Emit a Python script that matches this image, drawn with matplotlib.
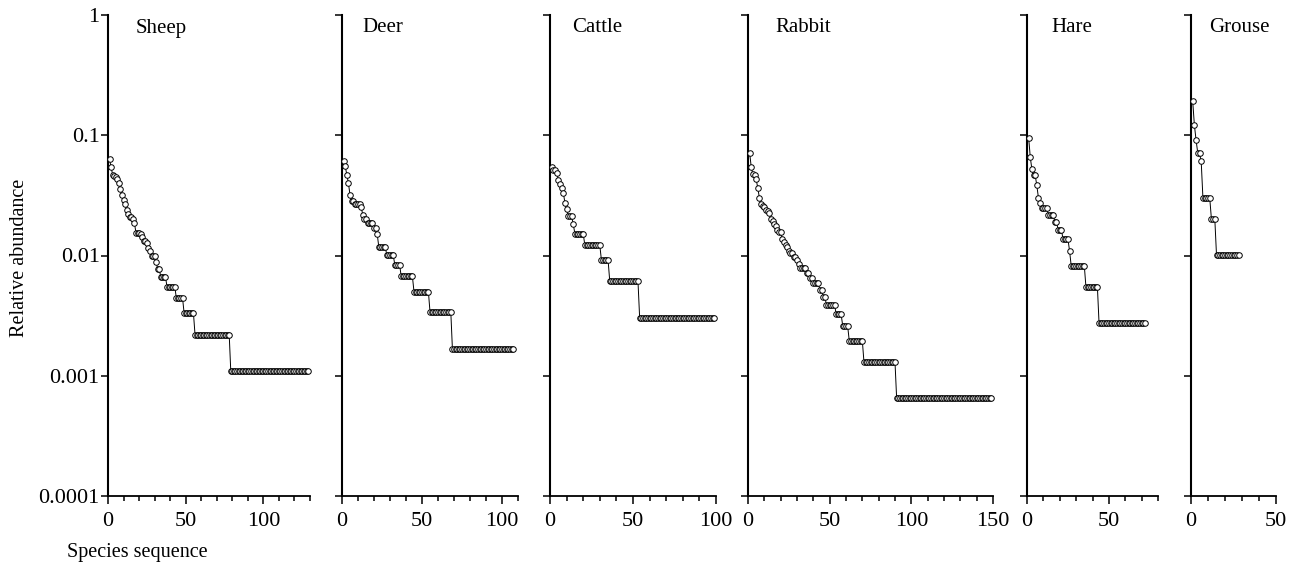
import matplotlib.pyplot as plt
from matplotlib.ticker import MultipleLocator, NullLocator, FixedLocator, FixedFormatter

plt.rcParams["font.family"] = ["Liberation Serif", "DejaVu Serif"]

# ── Data (relative abundance by rank) ────────────────────────────────────────
species = ["Sheep", "Deer", "Cattle", "Rabbit", "Hare", "Grouse"]
x_max = [130, 110, 100, 150, 80, 50]

sheep = ([0.063, 0.054, 0.047, 0.046, 0.045, 0.043, 0.040, 0.036, 0.032,
          0.029, 0.027, 0.024, 0.022, 0.021, 0.021, 0.020, 0.0187, 0.0154,
          0.0154, 0.0154, 0.0150, 0.0143, 0.0132, 0.0132, 0.0126, 0.0115,
          0.0110, 0.0099, 0.0099, 0.0099, 0.0088, 0.0077, 0.0077]
         + [0.0066] * 4 + [0.0055] * 6 + [0.0044] * 5 + [0.0033] * 7
         + [0.0022] * 23 + [0.0011] * 51)

deer = ([0.0605, 0.0555, 0.047, 0.040, 0.032, 0.0286, 0.0286, 0.0269,
         0.0269, 0.0269, 0.0269, 0.0252, 0.0218, 0.0202, 0.0202, 0.0185,
         0.0185, 0.0185, 0.0185, 0.0168, 0.0168, 0.0151]
        + [0.0118] * 5 + [0.0101] * 5 + [0.0084] * 4 + [0.0067] * 8
        + [0.0050] * 10 + [0.0034] * 14 + [0.00168] * 39)

cattle = ([0.0547, 0.0517, 0.0517, 0.0486, 0.0426, 0.0395, 0.0365, 0.0334,
           0.0274, 0.0243, 0.0213, 0.0213, 0.0213, 0.0182]
          + [0.0152] * 6 + [0.01216] * 10 + [0.0091] * 5 + [0.0061] * 18
          + [0.00304] * 46)

rabbit = ([0.0715, 0.054, 0.0474, 0.0468, 0.043, 0.0364, 0.030, 0.0266,
           0.026, 0.0253, 0.0240, 0.0234, 0.0227, 0.0201, 0.0195, 0.0182,
           0.0175, 0.0162, 0.0156, 0.0156, 0.0136, 0.0130, 0.0123, 0.0117,
           0.0110, 0.0104, 0.0104, 0.0098, 0.0098, 0.0091, 0.0085]
          + [0.0078] * 4 + [0.0072, 0.0072, 0.0065, 0.0065]
          + [0.0059] * 4 + [0.0052, 0.0052, 0.00455, 0.00455]
          + [0.0039] * 6 + [0.00325] * 4 + [0.0026] * 4 + [0.00195] * 9
          + [0.0013] * 20 + [0.00065] * 59)

hare = ([0.0956, 0.0656, 0.052, 0.0464, 0.0464, 0.0383, 0.030, 0.0273,
         0.0246, 0.0246, 0.0246, 0.0246, 0.0219, 0.0219, 0.0219, 0.0219,
         0.0191, 0.0191, 0.0164, 0.0164, 0.0164, 0.0137, 0.0137, 0.0137,
         0.0137, 0.0109]
        + [0.0082] * 9 + [0.00546] * 8 + [0.00273] * 29)

grouse = ([0.192, 0.121, 0.0909, 0.0707, 0.0707, 0.0606]
          + [0.0303] * 5 + [0.0202] * 3 + [0.0101] * 14)

series = [sheep, deer, cattle, rabbit, hare, grouse]

y_ticks = [0.0001, 0.001, 0.01, 0.1, 1]
y_tick_labels = ["0.0001", "0.001", "0.01", "0.1", "1"]

# ── Layout (pixels on a 1298 x 567 canvas) ───────────────────────────────────
W, H = 1298, 567
panel_px = [(108, 310), (342, 518), (550, 716), (748, 993), (1027, 1158), (1191, 1276)]
title_px = [136, 362, 572, 775, 1051, 1209]
top_px, bottom_px = 15, 496

fig = plt.figure(figsize=(W / 100, H / 100), dpi=100)

for i, (name, vals, xm) in enumerate(zip(species, series, x_max)):
    left, right = panel_px[i]
    ax = fig.add_axes([left / W, 1 - bottom_px / H, (right - left) / W,
                       (bottom_px - top_px) / H])
    ranks = range(1, len(vals) + 1)
    ax.plot(ranks, vals, "-", color="black", lw=0.7, zorder=2, clip_on=False)
    ax.plot(ranks, vals, "o", ms=4.0, mfc="white", mec="black", mew=0.7,
            zorder=3, clip_on=False)

    ax.set_yscale("log")
    ax.set_ylim(1e-4, 1)
    ax.set_xlim(0, xm)

    ax.yaxis.set_major_locator(FixedLocator(y_ticks))
    ax.yaxis.set_major_formatter(FixedFormatter(y_tick_labels))
    ax.yaxis.set_minor_locator(NullLocator())
    ax.xaxis.set_major_locator(MultipleLocator(50))
    ax.xaxis.set_minor_locator(MultipleLocator(10))

    for s in ["top", "right"]:
        ax.spines[s].set_visible(False)
    ax.spines["left"].set_linewidth(1.5)
    ax.spines["bottom"].set_linewidth(1.3)

    ax.tick_params(axis="y", which="major", direction="out", length=5,
                   width=1.1, labelsize=16, pad=1, labelleft=(i == 0))
    ax.tick_params(axis="x", which="major", direction="out", length=5.5,
                   width=1.1, labelsize=16, pad=6)
    ax.tick_params(axis="x", which="minor", direction="out", length=3.5,
                   width=1.1)

    fig.text(title_px[i] / W, 1 - 28 / H, name, ha="left", va="center",
             fontsize=15)

fig.text(20 / W, 1 - 258 / H, "Relative abundance", rotation=90,
         ha="center", va="center", fontsize=14.5)
fig.text(137 / W, 1 - 553 / H, "Species sequence", ha="center",
         va="center", fontsize=14.5)

fig.savefig("out.png", dpi=100)
